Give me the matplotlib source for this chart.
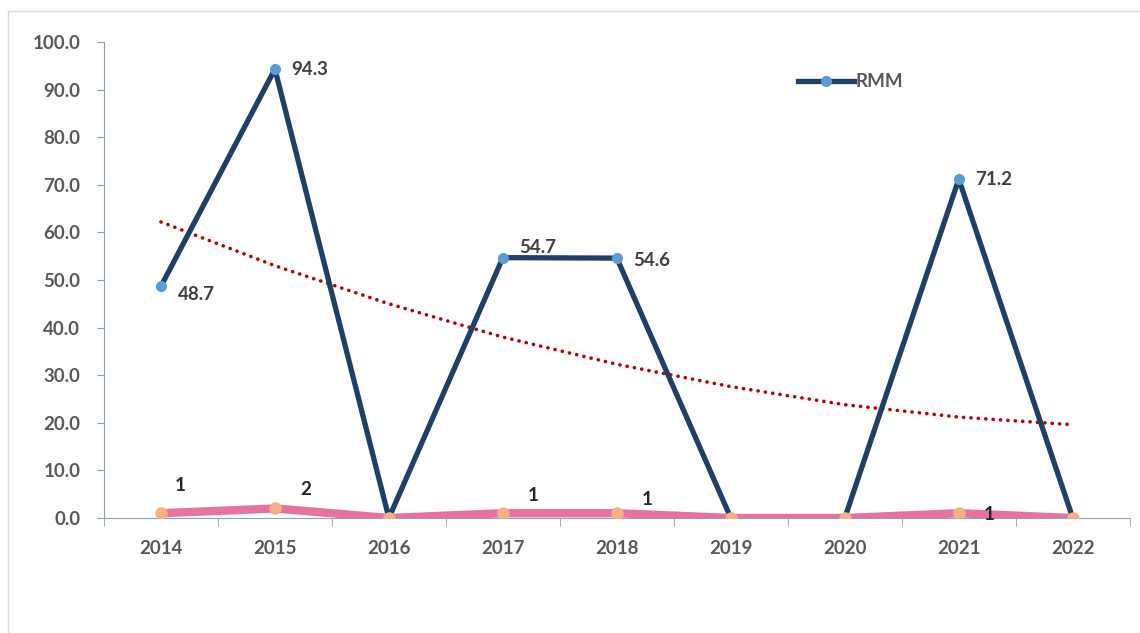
import numpy as np
import matplotlib.pyplot as plt
from matplotlib.patches import Rectangle

years = ['2014', '2015', '2016', '2017', '2018', '2019', '2020', '2021', '2022']
rmm = [48.7, 94.3, 0.0, 54.7, 54.6, 0.0, 0.0, 71.2, 0.0]
deaths = [1, 2, 0, 1, 1, 0, 0, 1, 0]
trend = [62.2, 53.0, 45.0, 38.0, 32.3, 27.6, 23.8, 21.2, 19.6]

plt.rcParams['font.family'] = ['Lato', 'DejaVu Sans']
grey = '#595959'
fs = 13.5

fig = plt.figure(figsize=(11.4, 6.33), dpi=100)
fig.patches.append(Rectangle((0.007, -0.01), 1.0, 0.992, transform=fig.transFigure,
                             fill=False, edgecolor='#d9d9d9', lw=1))
ax = fig.add_axes([0.0912, 0.1817, 0.8998, 0.7519])
x = np.arange(len(years))

ax.plot(x, trend, color='#c00000', lw=2.6, ls=(0, (0.05, 2.0)),
        dash_capstyle='round', zorder=2)
ax.plot(x, rmm, color='#1f3f66', lw=3.8, marker='o', ms=7,
        mfc='#5b9bd5', mec='#5b9bd5', label='RMM', zorder=3)
ax.plot(x, deaths, color='#e8729f', lw=6, marker='o', ms=8,
        mfc='#f4b183', mec='#f4b183', zorder=4)

# labels RMM
offs = {0: (12, -6), 1: (12, 0), 3: (12, 7), 4: (12, -2), 7: (12, 0)}
for i, (dx, dy) in offs.items():
    ax.annotate(f'{rmm[i]:.1f}', (x[i], rmm[i]), xytext=(dx, dy), textcoords='offset points',
                ha='left', va='center', fontsize=fs, fontweight='bold', color='#404040', zorder=6)

doffs = {0: (10, 20), 1: (18, 14), 3: (18, 13), 4: (18, 10), 7: (18, -1)}
for i, (dx, dy) in doffs.items():
    ax.annotate(str(deaths[i]), (x[i], deaths[i]), xytext=(dx, dy), textcoords='offset points',
                ha='left', va='center', fontsize=fs, fontweight='bold', color='#262626', zorder=6)

ax.set_xlim(-0.5, len(years) - 0.5)
ax.set_ylim(0, 100)
ax.set_yticks(np.arange(0, 101, 10))
ax.set_yticklabels([f'{v:.1f}' for v in np.arange(0, 101, 10)])
ax.set_xticks(x)
ax.set_xticklabels(years)
ax.set_xticks(np.arange(-0.5, len(years) + 0.5, 1), minor=True)
ax.tick_params(axis='x', which='major', length=0, pad=16)
ax.tick_params(axis='x', which='minor', length=6, color='#8aa0b4', direction='out')
ax.tick_params(axis='y', length=5, color='#8aa0b4', pad=12)
for lab in ax.get_xticklabels() + ax.get_yticklabels():
    lab.set_fontsize(fs)
    lab.set_fontweight('bold')
    lab.set_color(grey)

for s in ['top', 'right']:
    ax.spines[s].set_visible(False)
ax.spines['left'].set_color('#8aa0b4')
ax.spines['bottom'].set_color('#8aa0b4')

leg = ax.legend(loc='upper left', bbox_to_anchor=(0.66, 0.97), frameon=False,
                handlelength=3.0, handletextpad=0.1, prop={'size': fs, 'weight': 'bold'})
for t in leg.get_texts():
    t.set_color(grey)

fig.savefig('out.png', dpi=100)
